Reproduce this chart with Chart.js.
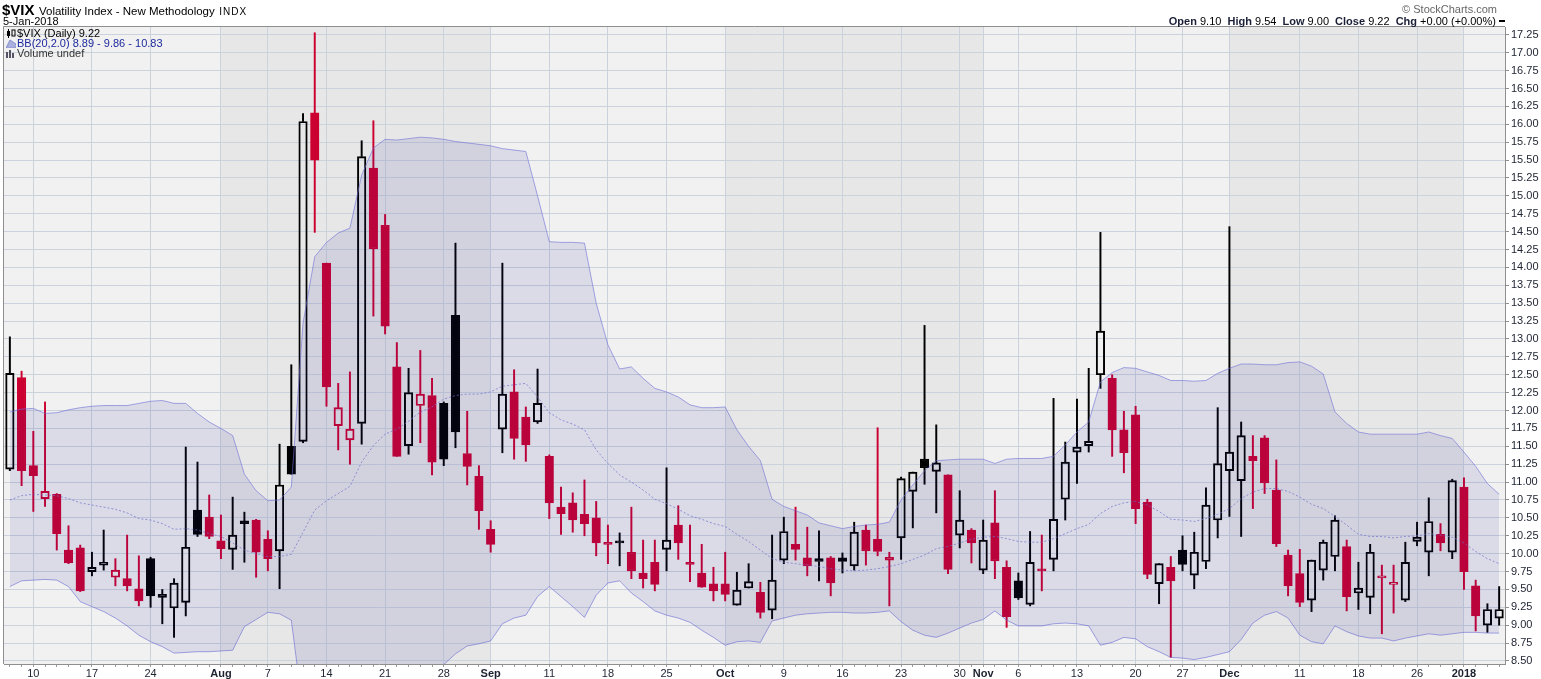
<!DOCTYPE html>
<html>
<head>
<meta charset="utf-8">
<title>$VIX Daily</title>
<script src="https://cdn.jsdelivr.net/npm/chart.js@4.4.1/dist/chart.umd.min.js"></script>
<style>
  html, body { margin: 0; padding: 0; background: #fff; width: 1541px; height: 679px; overflow: hidden;
    font-family: "Liberation Sans", Arial, sans-serif; }
  #wrap { position: relative; width: 1541px; height: 679px; }
  #chart { position: absolute; left: 0; top: 0; }
  .txt { position: absolute; white-space: nowrap; color: #000; }
  .lbl { font-weight: bold; color: #1a1f36; }
  .legend { position: absolute; left: 6px; top: 28px; font-size: 11px; line-height: 10px; white-space: nowrap; }
  .legend div { height: 10px; }
  .legend svg { vertical-align: -1px; margin-right: 1px; }
</style>
</head>
<body>
<div id="wrap">
  <canvas id="chart" width="1541" height="679"></canvas>

  <!-- header -->
  <div class="txt" style="left:2px; top:1px;">
    <b style="font-size:15px;">$VIX</b>
    <span style="font-size:11.5px;">Volatility Index - New Methodology</span>
    <span style="font-size:10px; letter-spacing:1px;">INDX</span>
  </div>
  <div class="txt" style="left:3px; top:15px; font-size:11px;">5-Jan-2018</div>
  <div class="txt" style="right:44px; top:3px; font-size:11px; color:#666;">&copy; StockCharts.com</div>
  <div class="txt" style="right:36px; top:15px; font-size:11px;">
    <span class="lbl">Open</span> 9.10&nbsp; <span class="lbl">High</span> 9.54&nbsp; <span class="lbl">Low</span> 9.00&nbsp;
    <span class="lbl">Close</span> 9.22&nbsp; <span class="lbl">Chg</span> +0.00 (+0.00%)
    <span style="display:inline-block; width:6px; height:2px; background:#000; vertical-align:3px;"></span>
  </div>

  <!-- legend inside the plot -->
  <div class="legend">
    <div><svg width="10" height="9"><rect x="1" y="2" width="3" height="5" fill="#000"/><rect x="6" y="1" width="3" height="6" fill="none" stroke="#000"/><line x1="2.5" y1="0" x2="2.5" y2="9" stroke="#000"/></svg>$VIX (Daily) 9.22</div>
    <div style="color:#1f2a9e;"><svg width="10" height="9"><polygon points="0,9 4,1 10,5 10,9" fill="#aab0de" stroke="#8890d0"/></svg>BB(20,2.0) 8.89 - 9.86 - 10.83</div>
    <div style="color:#333;"><svg width="10" height="9"><rect x="0" y="3" width="2" height="6" fill="#556"/><rect x="3" y="1" width="2" height="8" fill="#556"/><rect x="6" y="4" width="2" height="5" fill="#556"/></svg>Volume undef</div>
  </div>
</div>

<script>
// trading days, 6 Jul 2017 to 5 Jan 2018
const dates = [
  '2017-07-06','2017-07-07','2017-07-10','2017-07-11','2017-07-12','2017-07-13','2017-07-14','2017-07-17','2017-07-18','2017-07-19',
  '2017-07-20','2017-07-21','2017-07-24','2017-07-25','2017-07-26','2017-07-27','2017-07-28','2017-07-31',
  '2017-08-01','2017-08-02','2017-08-03','2017-08-04','2017-08-07','2017-08-08','2017-08-09','2017-08-10','2017-08-11','2017-08-14',
  '2017-08-15','2017-08-16','2017-08-17','2017-08-18','2017-08-21','2017-08-22','2017-08-23','2017-08-24','2017-08-25','2017-08-28',
  '2017-08-29','2017-08-30','2017-08-31',
  '2017-09-01','2017-09-05','2017-09-06','2017-09-07','2017-09-08','2017-09-11','2017-09-12','2017-09-13','2017-09-14','2017-09-15',
  '2017-09-18','2017-09-19','2017-09-20','2017-09-21','2017-09-22','2017-09-25','2017-09-26','2017-09-27','2017-09-28','2017-09-29',
  '2017-10-02','2017-10-03','2017-10-04','2017-10-05','2017-10-06','2017-10-09','2017-10-10','2017-10-11','2017-10-12','2017-10-13',
  '2017-10-16','2017-10-17','2017-10-18','2017-10-19','2017-10-20','2017-10-23','2017-10-24','2017-10-25','2017-10-26','2017-10-27',
  '2017-10-30','2017-10-31',
  '2017-11-01','2017-11-02','2017-11-03','2017-11-06','2017-11-07','2017-11-08','2017-11-09','2017-11-10','2017-11-13','2017-11-14',
  '2017-11-15','2017-11-16','2017-11-17','2017-11-20','2017-11-21','2017-11-22','2017-11-24','2017-11-27','2017-11-28','2017-11-29',
  '2017-11-30',
  '2017-12-01','2017-12-04','2017-12-05','2017-12-06','2017-12-07','2017-12-08','2017-12-11','2017-12-12','2017-12-13','2017-12-14',
  '2017-12-15','2017-12-18','2017-12-19','2017-12-20','2017-12-21','2017-12-22','2017-12-26','2017-12-27','2017-12-28','2017-12-29',
  '2018-01-02','2018-01-03','2018-01-04','2018-01-05'
];

const open = [
  11.18,12.46,11.23,10.77,10.83,10.05,10.08,9.75,9.84,9.67, 9.65,9.51,9.93,9.39,9.24,9.32,10.61,10.51,
  10.18,10.06,10.46,10.47,10.20,10.04,11.50,11.57,16.16,14.06,11.79,11.59,11.82,15.39,14.59,12.61,11.51,12.07,12.21,12.10,13.33,11.40,11.08,
  10.34,11.74,12.26,11.91,11.84,11.36,10.65,10.71,10.55,10.50,10.16,10.17,10.02,9.73,9.88,10.06,10.40,9.88,9.73,9.58,
  9.58,9.28,9.52,9.46,9.21,9.91,10.13,9.94,9.93,9.94,9.94,9.83,10.33,10.20,9.91,10.22,10.87,11.32,11.15,11.10,10.26,10.33,
  9.77,10.43,9.81,9.62,9.29,9.77,9.92,10.76,11.42,11.51,12.50,12.45,11.73,11.94,10.72,9.58,9.81,10.05,9.70,9.89,10.47,
  11.16,11.02,11.36,11.62,10.89,9.98,9.72,9.35,9.77,9.96,10.10,9.45,9.39,9.66,9.57,9.35,10.17,10.02,10.27,10.02,
  10.93,9.55,9.00,9.10
];
const high = [
  13.03,12.55,11.71,12.12,10.84,10.39,10.12,10.02,10.33,9.93, 10.26,9.97,9.95,9.50,9.65,11.49,11.28,10.82,
  10.54,10.79,10.58,10.48,10.32,11.53,12.64,16.15,17.28,14.06,12.38,12.54,15.77,16.05,14.74,12.95,12.59,12.84,12.45,12.12,14.34,11.99,11.23,
  10.46,14.06,12.57,12.05,12.58,11.38,10.93,10.85,11.03,10.73,10.40,10.29,10.65,10.19,10.19,11.20,10.67,10.40,10.13,9.81,
  10.02,9.74,9.86,9.60,10.26,10.51,10.65,10.37,10.32,9.96,10.01,10.44,10.40,11.76,10.02,11.07,11.14,13.19,11.80,11.10,10.88,10.35,
  10.47,10.88,9.90,9.73,10.31,10.26,12.17,11.56,12.16,12.59,14.49,12.50,11.99,12.06,10.76,9.86,9.96,10.25,10.30,10.92,12.04,
  14.57,11.84,11.65,11.65,11.31,10.05,10.06,9.91,10.19,10.53,10.19,9.88,10.13,9.84,9.84,10.16,10.44,10.78,10.42,11.04,
  11.06,9.63,9.30,9.54
];
const low = [
  11.16,10.95,10.59,10.66,10.05,9.86,9.47,9.69,9.77,9.55, 9.48,9.27,9.25,9.02,8.83,9.13,10.24,10.21,
  9.93,9.78,9.88,9.67,9.76,9.51,11.11,11.55,14.49,12.06,11.45,11.25,11.53,13.32,13.07,11.36,11.39,11.55,11.10,11.23,11.48,10.96,10.34,
  10.02,11.41,11.32,11.29,11.82,10.49,10.27,10.30,10.25,9.97,9.86,9.83,9.65,9.52,9.48,9.76,9.92,9.61,9.53,9.34,
  9.34,9.28,9.52,9.10,9.09,9.86,9.91,9.69,9.62,9.41,9.73,9.77,9.84,9.97,9.27,9.92,10.36,10.97,10.57,9.72,10.08,9.87,
  9.72,9.65,8.97,9.36,9.27,9.48,9.76,10.47,10.98,11.42,12.31,11.36,11.13,10.42,9.65,9.30,8.55,9.76,9.51,9.79,10.22,
  10.52,10.24,10.63,10.84,10.10,9.41,9.26,9.19,9.63,9.76,9.20,9.22,9.16,8.88,9.17,9.33,10.11,9.69,10.04,9.93,
  9.50,8.92,8.90,9.00
];
const close = [
  12.52,11.16,11.09,10.87,10.28,9.87,9.48,9.81,9.88,9.77, 9.55,9.34,9.41,9.43,9.59,10.09,10.27,10.24,
  10.07,10.26,10.42,10.02,9.93,10.96,11.11,16.04,15.50,12.33,12.04,11.74,15.55,14.26,13.18,11.36,12.25,12.23,11.28,11.32,11.70,11.22,10.60,
  10.13,12.23,11.61,11.52,12.10,10.71,10.56,10.47,10.42,10.15,10.13,10.15,9.76,9.65,9.57,10.19,10.15,9.85,9.53,9.48,
  9.43,9.49,9.61,9.18,9.63,10.31,10.06,9.83,9.89,9.59,9.89,10.30,10.04,10.03,9.95,11.05,11.14,11.20,11.27,9.78,10.47,10.15,
  10.19,9.90,9.12,9.38,9.88,9.76,10.48,11.28,11.49,11.57,13.11,11.73,11.41,10.63,9.71,9.86,9.62,9.85,10.02,10.68,11.26,
  11.42,11.65,11.30,10.99,10.14,9.55,9.32,9.91,10.16,10.47,9.40,9.52,10.02,9.69,9.60,9.88,10.23,10.45,10.15,11.02,
  9.75,9.13,9.22,9.22
];

// Bollinger Bands (20, 2.0)
const bbUpper = [
  11.98,12.02,12.03,11.96,11.97,12.01,12.04,12.06,12.07,12.07, 12.07,12.10,12.13,12.14,12.10,12.10,11.96,11.84,
  11.75,11.65,11.11,10.88,10.74,10.75,10.93,13.22,14.15,14.35,14.48,14.55,15.29,15.67,15.79,15.78,15.80,15.82,15.81,15.79,15.76,15.74,15.72,
  15.70,15.66,15.64,15.62,15.00,14.36,14.35,14.35,14.34,13.50,12.92,12.58,12.61,12.45,12.31,12.26,12.19,12.08,12.04,12.04,
  12.05,11.73,11.50,11.30,10.76,10.66,10.60,10.54,10.43,10.39,10.35,10.38,10.40,10.41,10.44,10.75,10.96,11.16,11.30,11.31,11.32,11.32,
  11.32,11.26,11.32,11.33,11.33,11.33,11.36,11.52,11.70,11.84,12.40,12.53,12.60,12.59,12.54,12.49,12.42,12.42,12.41,12.42,12.52,
  12.59,12.65,12.65,12.64,12.64,12.67,12.68,12.62,12.51,11.98,11.82,11.70,11.67,11.67,11.67,11.67,11.67,11.70,11.65,11.61,
  11.42,11.22,10.98,10.83
];
const bbMid = [
  10.75,10.81,10.83,10.82,10.81,10.77,10.71,10.68,10.65,10.62, 10.57,10.49,10.47,10.42,10.34,10.35,10.33,10.28,
  10.24,10.15,10.05,10.00,9.96,9.96,9.99,10.30,10.61,10.74,10.84,10.94,11.28,11.51,11.67,11.74,11.85,11.98,12.05,12.16,12.21,12.23,12.23,
  12.26,12.34,12.36,12.38,12.19,11.97,11.87,11.81,11.73,11.45,11.26,11.10,11.00,10.89,10.76,10.70,10.62,10.53,10.48,10.42,
  10.38,10.27,10.17,10.05,9.93,9.88,9.86,9.84,9.82,9.79,9.77,9.76,9.77,9.79,9.82,9.86,9.92,9.98,10.07,10.10,10.15,10.20,
  10.23,10.24,10.21,10.17,10.16,10.16,10.21,10.28,10.35,10.41,10.56,10.66,10.71,10.73,10.68,10.59,10.48,10.47,10.45,10.49,10.55,
  10.63,10.77,10.86,10.91,10.91,10.87,10.79,10.69,10.63,10.52,10.40,10.27,10.24,10.24,10.22,10.24,10.25,10.28,10.26,10.23,
  10.15,10.03,9.93,9.86
];
const bbLower = [
  9.54,9.62,9.63,9.64,9.63,9.54,9.33,9.26,9.19,9.10, 8.99,8.86,8.77,8.70,8.61,8.62,8.63,8.63,
  8.64,8.65,8.98,9.08,9.18,9.16,9.07,7.80,7.10,7.10,7.20,7.30,7.25,7.35,7.55,7.70,7.90,8.12,8.28,8.45,8.60,8.71,8.74,
  8.78,9.02,9.10,9.14,9.40,9.54,9.40,9.26,9.11,9.42,9.59,9.62,9.45,9.33,9.20,9.14,9.10,9.04,8.93,8.83,
  8.72,8.77,8.78,8.76,9.06,9.10,9.14,9.16,9.17,9.18,9.18,9.17,9.17,9.18,9.20,9.05,8.93,8.86,8.83,8.89,8.96,9.03,
  9.08,9.20,9.07,8.99,8.99,8.99,9.02,9.03,9.02,8.99,8.72,8.76,8.83,8.81,8.70,8.63,8.55,8.54,8.52,8.55,8.59,
  8.63,8.80,9.03,9.14,9.19,9.10,8.86,8.77,8.74,8.99,8.91,8.85,8.82,8.82,8.78,8.82,8.85,8.88,8.86,8.88,
  8.90,8.90,8.89,8.89
];

// x axis labels: first trading day of each labelled week / month
const tickDates = ['2017-07-10','2017-07-17','2017-07-24','2017-08-01','2017-08-07','2017-08-14','2017-08-21','2017-08-28',
  '2017-09-01','2017-09-11','2017-09-18','2017-09-25','2017-10-02','2017-10-09','2017-10-16','2017-10-23','2017-10-30',
  '2017-11-01','2017-11-06','2017-11-13','2017-11-20','2017-11-27','2017-12-01','2017-12-11','2017-12-18','2017-12-26','2018-01-02'];
const tickText = ['10','17','24','Aug','7','14','21','28','Sep','11','18','25','Oct','9','16','23','30',
  'Nov','6','13','20','27','Dec','11','18','26','2018'];
const boldTicks = ['Aug','Sep','Oct','Nov','Dec','2018'];

const RED = '#cc0030';
const BLACK = '#000000';
const GRID = '#cbd2dc';

const tickLabel = {};
tickDates.forEach((d, k) => { tickLabel[dates.indexOf(d)] = tickText[k]; });

// StockCharts colouring: hollow when close > open, red when close < previous close
const candleColor = close.map((c, i) => (i === 0 || c >= close[i - 1]) ? BLACK : RED);
const bodyFill = close.map((c, i) => c < open[i] ? candleColor[i] : 'rgba(0,0,0,0)');
const bodies = open.map((o, i) => [Math.min(o, close[i]), Math.max(o, close[i])]);
const upperWicks = high.map((h, i) => [Math.max(open[i], close[i]), h]);
const lowerWicks = low.map((l, i) => [l, Math.min(open[i], close[i])]);

// month starts for the alternating background
const monthStarts = dates.map((d, i) => (i === 0 || d.slice(0, 7) !== dates[i - 1].slice(0, 7)) ? i : -1).filter(i => i >= 0);

const backdrop = {
  id: 'backdrop',
  beforeDraw(chart) {
    const { ctx, chartArea: a, scales: { x } } = chart;
    ctx.save();
    ctx.fillStyle = '#f0f1f0';
    ctx.fillRect(a.left, a.top, a.right - a.left, a.bottom - a.top);
    ctx.fillStyle = '#e7e7e7';
    monthStarts.forEach((s, k) => {
      const m = +dates[s].slice(5, 7);
      if (m % 2 === 0) {
        const x0 = x.getPixelForValue(s);
        const x1 = k + 1 < monthStarts.length ? x.getPixelForValue(monthStarts[k + 1]) : a.right;
        ctx.fillRect(x0, a.top, x1 - x0, a.bottom - a.top);
      }
    });
    ctx.restore();
  },
  afterDraw(chart) {
    const { ctx, chartArea: a } = chart;
    ctx.save();
    ctx.strokeStyle = '#8f8f8f';
    ctx.lineWidth = 1;
    ctx.beginPath();
    ctx.moveTo(a.left - 0.5, a.bottom);
    ctx.lineTo(a.left - 0.5, a.top - 0.5);
    ctx.lineTo(a.right, a.top - 0.5);
    ctx.stroke();
    ctx.restore();
  }
};

Chart.defaults.font.family = '"Liberation Sans", Arial, sans-serif';
Chart.defaults.font.size = 11;

new Chart(document.getElementById('chart'), {
  type: 'bar',
  data: {
    labels: dates,
    datasets: [
      {
        type: 'line', label: 'BB upper', data: bbUpper, order: 0,
        borderColor: 'rgba(110,110,215,0.6)', borderWidth: 1, pointRadius: 0,
        fill: '+1', backgroundColor: 'rgba(30,30,160,0.1)'
      },
      {
        type: 'line', label: 'BB lower', data: bbLower, order: 0,
        borderColor: 'rgba(110,110,215,0.6)', borderWidth: 1, pointRadius: 0, fill: false
      },
      {
        type: 'line', label: 'BB mid', data: bbMid, order: 0,
        borderColor: 'rgba(120,120,210,0.7)', borderWidth: 1, borderDash: [2, 2], pointRadius: 0, fill: false
      },
      {
        label: 'upper wick', data: upperWicks, order: 2, grouped: false,
        backgroundColor: candleColor, borderWidth: 0, barThickness: 1.3
      },
      {
        label: 'lower wick', data: lowerWicks, order: 2, grouped: false,
        backgroundColor: candleColor, borderWidth: 0, barThickness: 1.3
      },
      {
        label: 'body', data: bodies, order: 1, grouped: false,
        backgroundColor: bodyFill, borderColor: candleColor, borderWidth: 1.3,
        borderSkipped: false, barThickness: 8.5, minBarLength: 2
      }
    ]
  },
  options: {
    responsive: false,
    animation: false,
    devicePixelRatio: 1,
    layout: { padding: { top: 27, left: 4, right: 0, bottom: 0 } },
    plugins: { legend: { display: false }, tooltip: { enabled: false } },
    scales: {
      x: {
        type: 'category',
        offset: true,
        grid: {
          offset: false,
          color: ctx => tickLabel[ctx.index] !== undefined ? GRID : 'rgba(0,0,0,0)',
          tickColor: '#9a9a9a',
          tickLength: 3
        },
        border: { display: true, color: '#8f8f8f' },
        ticks: {
          autoSkip: false,
          maxRotation: 0,
          padding: 0,
          color: '#1c2230',
          font: ctx => ({ size: 11, weight: boldTicks.includes(tickLabel[ctx.index]) ? 'bold' : 'normal' }),
          callback: (v, i) => tickLabel[i] !== undefined ? tickLabel[i] : ''
        },
        afterFit: s => { s.height = 15; }
      },
      y: {
        type: 'linear',
        position: 'right',
        min: 8.458,
        max: 17.36,
        grid: { color: GRID, tickColor: '#8f8f8f', tickLength: 4 },
        border: { display: true, color: '#8f8f8f' },
        ticks: {
          stepSize: 0.25,
          includeBounds: false,
          padding: 2,
          color: '#1c2230',
          font: { size: 11 },
          callback: v => v.toFixed(2)
        },
        afterFit: s => { s.width = 36; }
      }
    }
  },
  plugins: [backdrop]
});
</script>
</body>
</html>
